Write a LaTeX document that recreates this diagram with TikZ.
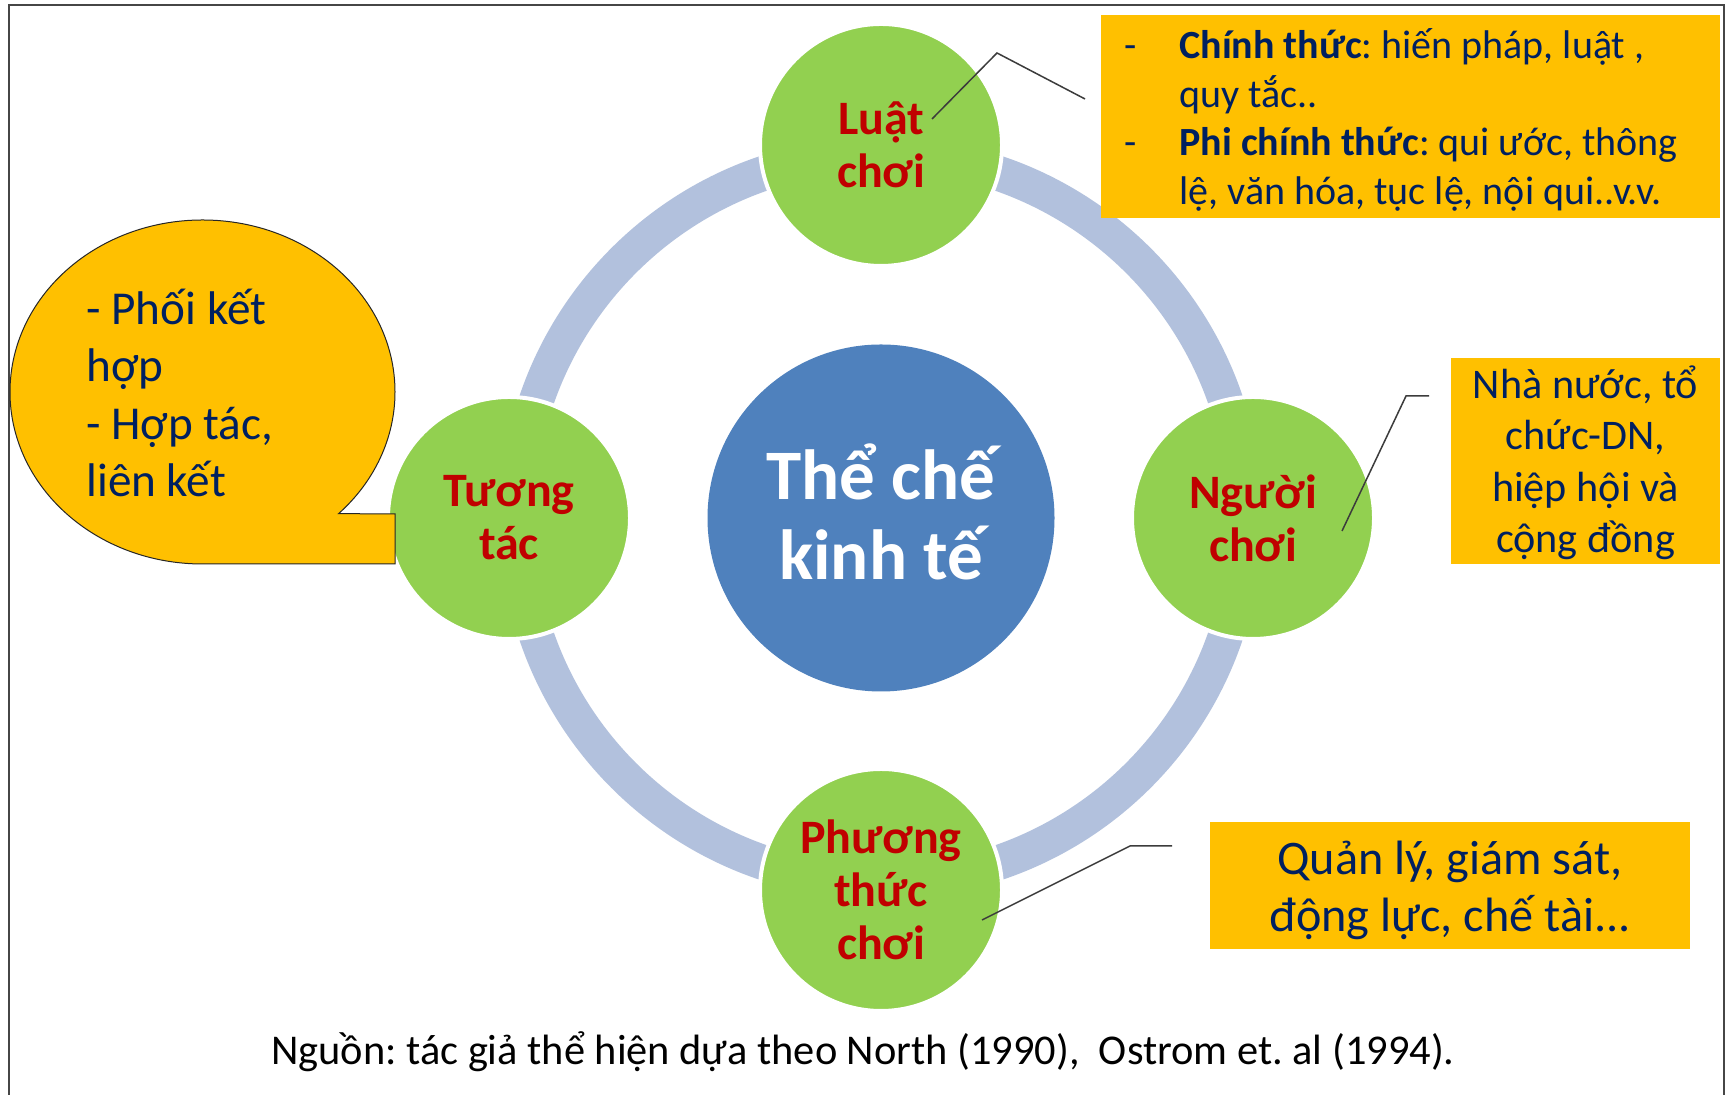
\documentclass[tikz,border=0pt]{standalone}
\usepackage{fontspec}
\setmainfont{Carlito}
\definecolor{ringc}{RGB}{178,193,221}
\definecolor{greenc}{RGB}{146,208,80}
\definecolor{bluec}{RGB}{79,129,189}
\definecolor{orangec}{RGB}{255,192,0}
\definecolor{redc}{RGB}{192,0,0}
\definecolor{navyc}{RGB}{0,32,96}
\definecolor{framec}{RGB}{70,70,70}
\definecolor{leaderc}{RGB}{60,60,60}
\begin{document}
\frenchspacing
\begin{tikzpicture}[x=0.5pt,y=0.5pt,
  greennode/.style={circle, fill=greenc, draw=white, line width=2pt, minimum size=121pt, inner sep=0pt,
     align=center, text=redc, font=\fontsize{24}{26.5}\selectfont\bfseries},
  centernode/.style={circle, fill=bluec, minimum size=173.5pt, inner sep=0pt},
  centertextstyle/.style={align=center, inner sep=0pt, text=white, font=\fontsize{35.5}{40}\selectfont\bfseries},
  obox/.style={rectangle, fill=orangec, inner sep=0pt},
  boxtext/.style={text=navyc, inner sep=0pt},
  leader/.style={draw=leaderc, line width=0.75pt},
]
\useasboundingbox (0,0) rectangle (1727,1095);
\fill[white] (0,0) rectangle (1727,1095);
\draw[framec, line width=0.8pt] (9,0) -- (9,1090) -- (1724,1090) -- (1724,0);

% ring
\draw[ringc, line width=17.5pt] (881,577) circle[radius=364];

% center and satellites
\node[centernode] (center) at (881,577) {};
\node[centertextstyle] (centertext) at (881,583) {Thể chế\\kinh tế};
\node[greennode] (rules) at (881,950) {Luật\\chơi};
\node[greennode] (players) at (1253,577) {Người\\chơi};
\node[greennode] (interact) at (509,577) {Tương\\tác};
\node[greennode] (method) at (881,205) {Phương\\thức\\chơi};

% speech bubble
\filldraw[fill=orangec, draw=black!85, line width=0.5pt]
  (202.5,531) arc[start angle=-90, end angle=-405, x radius=192.5, y radius=172]
  -- (395,581) -- (395,531) -- cycle;
\node[boxtext, anchor=west, align=left, font=\fontsize{23.6}{28.7}\selectfont] (bubbletext) at (86,702)
  {- Phối kết\\hợp\\- Hợp tác,\\liên kết};

% top-right box
\node[obox, minimum width=309.5pt, minimum height=101.5pt] (rulesbox) at (1410.5,978.5) {};
\node[boxtext, anchor=west, align=left, font=\fontsize{20}{24.25}\selectfont] (rulestext) at (1124,975)
  {\makebox[27.5pt][l]{-}\textbf{Chính thức}: hiến pháp, luật ,\\
   \hspace*{27.5pt}quy tắc..\\
   \makebox[27.5pt][l]{-}\textbf{Phi chính thức}: qui ước, thông\\
   \hspace*{27.5pt}lệ, văn hóa, tục lệ, nội qui..v.v.};

% right box
\node[obox, minimum width=134.5pt, minimum height=103pt] (playersbox) at (1585.5,634) {};
\node[boxtext, align=center, font=\fontsize{21.1}{25.7}\selectfont] (playerstext) at (1585.5,632)
  {Nhà nước, tổ\\chức-DN,\\hiệp hội và\\cộng đồng};

% bottom box
\node[obox, minimum width=240pt, minimum height=63.5pt] (methodbox) at (1450,209.5) {};
\node[boxtext, align=center, font=\fontsize{24.1}{28.5}\selectfont] (methodtext) at (1450,205)
  {Quản lý, giám sát,\\động lực, chế tài...};

% leader lines
\coordinate (l1a) at (932,976);
\coordinate (l1b) at (997,1042);
\coordinate (l1c) at (1085,996);
\draw[leader] (l1a) -- (l1b) -- (l1c);
\coordinate (l2a) at (1342,564);
\coordinate (l2b) at (1406,699);
\coordinate (l2c) at (1429,699);
\draw[leader] (l2a) -- (l2b) -- (l2c);
\coordinate (l3a) at (982,175);
\coordinate (l3b) at (1130,249);
\coordinate (l3c) at (1172,249);
\draw[leader] (l3a) -- (l3b) -- (l3c);

% footer
\node[anchor=base, inner sep=0pt, font=\fontsize{21.2}{25}\selectfont] (source) at (863,30)
  {Nguồn: tác giả thể hiện dựa theo North (1990),\ \ Ostrom et. al (1994).};
\end{tikzpicture}
\end{document}
